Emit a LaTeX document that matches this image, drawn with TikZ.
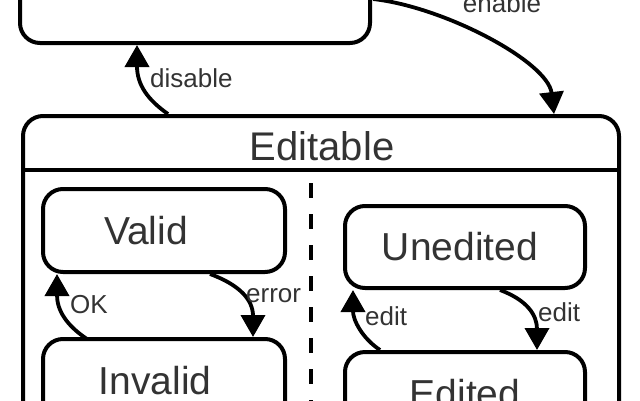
\documentclass[tikz,border=0pt]{standalone}
\usepackage{fontspec}
\setmainfont{Liberation Sans}
\usetikzlibrary{arrows.meta}
\definecolor{txt}{HTML}{333333}
\begin{document}
\begin{tikzpicture}[x=1pt,y=-1pt,
  box/.style={draw=black,line width=4pt,rounded corners=20pt,rectangle,inner sep=0pt},
  lbl/.style={text=txt,font=\fontsize{26}{28}\selectfont,anchor=base west,inner sep=0pt},
  st/.style={text=txt,font=\fontsize{39}{41}\selectfont,anchor=base,inner sep=0pt},
  arr/.style={line width=3.8pt,-{Triangle[length=22pt,width=24pt]}},
]
\useasboundingbox (0,0) rectangle (640,400);
\clip (0,0) rectangle (640,400);
% boxes
\node[box,minimum width=350pt,minimum height=88pt] (top) at (195,-1) {};
\node[box,minimum width=596pt,minimum height=500pt] (editable) at (321,366) {};
\node[box,minimum width=242pt,minimum height=83pt] (valid) at (164,230.5) {};
\node[box,minimum width=242pt,minimum height=83pt] (invalid) at (164,380.5) {};
\node[box,minimum width=240pt,minimum height=82pt] (unedited) at (465,247) {};
\node[box,minimum width=240pt,minimum height=82pt] (edited) at (465,393) {};
% header line and divider
\draw[line width=4pt] (23,170) -- (619,170);
\draw[line width=3.5pt,dash pattern=on 15pt off 16pt] (311,183) -- (311,430);
% state texts
\node[st,font=\fontsize{40}{42}\selectfont] (tEditable) at (322,160) {Editable};
\node[st] (tValid) at (146,244) {Valid};
\node[st] (tInvalid) at (155,394) {Invalid};
\node[st] (tUnedited) at (460,260) {Unedited};
\node[st] (tEdited) at (465,407) {Edited};
% connector end points
\coordinate (enS) at (373,-1);
\coordinate (enE) at (554,114);
\coordinate (disS) at (168,114);
\coordinate (disE) at (137,45);
\coordinate (okS) at (87,339);
\coordinate (okE) at (57,274);
\coordinate (erS) at (210,274);
\coordinate (erE) at (253,337);
\coordinate (e1S) at (380,350);
\coordinate (e1E) at (353,290);
\coordinate (e2S) at (500,290);
\coordinate (e2E) at (537,350);
% connectors
\draw[arr] (enS) .. controls (445,7) and (548,62) .. (enE);
\draw[arr] (disS) .. controls (148,100) and (137,85) .. (disE);
\draw[arr] (okS) .. controls (66,325) and (57,310) .. (okE);
\draw[arr] (erS) .. controls (240,285) and (253,300) .. (erE);
\draw[arr] (e1S) .. controls (362,338) and (353,320) .. (e1E);
\draw[arr] (e2S) .. controls (527,300) and (537,315) .. (e2E);
% labels
\node[lbl,anchor=base] (lEnable) at (502,12) {enable};
\node[lbl] (lDisable) at (150,87) {disable};
\node[lbl] (lOK) at (70,313) {OK};
\node[lbl] (lError) at (246,302) {error};
\node[lbl] (lEdit1) at (365,325) {edit};
\node[lbl] (lEdit2) at (538,321) {edit};
\end{tikzpicture}
\end{document}
